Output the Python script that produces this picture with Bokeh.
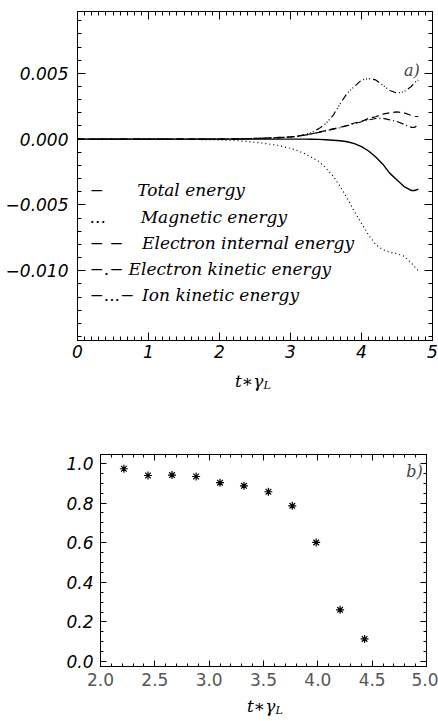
from bokeh.plotting import figure
from bokeh.layouts import column
from bokeh.models import (Range1d, FixedTicker, LinearAxis, CustomJSTickFormatter,
                          Label, ColumnDataSource, CustomLabelingPolicy)
from bokeh.core.properties import value
from bokeh.embed import file_html
from bokeh.resources import INLINE

# ---------------- data (panel a) ----------------
t = [0.0, 0.5, 1.0, 1.5, 2.0, 2.2, 2.4, 2.6, 2.8, 3.0, 3.1, 3.2, 3.3, 3.4, 3.5,
     3.6, 3.7, 3.8, 3.9, 4.0, 4.1, 4.2, 4.3, 4.4, 4.5, 4.6, 4.7, 4.75, 4.8]
total_energy = [0, 0, 0, 0, 0, 0, 0, 0, 0, 0, 0, 0, -0.00001, -0.00002, -0.00004,
                -0.00008, -0.00012, -0.0002, -0.00034, -0.00057, -0.0009, -0.00135, -0.0019,
                -0.0026, -0.0031, -0.0036, -0.0039, -0.0039, -0.0038]
magnetic_energy = [0, 0, 0, -0.00001, -0.00005, -0.0001, -0.00018, -0.0003, -0.00045,
                   -0.0007, -0.00088, -0.0011, -0.0014, -0.0017, -0.0022, -0.0028, -0.0036,
                   -0.0045, -0.0055, -0.0064, -0.0073, -0.0080, -0.0084, -0.0086, -0.0087,
                   -0.0089, -0.0094, -0.0097, -0.0100]
electron_internal = [0, 0, 0, 0, 0, 0.00002, 0.00004, 0.00007, 0.00011, 0.00017, 0.00023,
                     0.00031, 0.00041, 0.00053, 0.00065, 0.00078, 0.0009, 0.00106, 0.00123,
                     0.00135, 0.00157, 0.0017, 0.0019, 0.002, 0.00207, 0.002, 0.0018,
                     0.00174, 0.0017]
electron_kinetic = [0, 0, 0, 0, 0, 0.00002, 0.00004, 0.00007, 0.00011, 0.00017, 0.00022,
                    0.0003, 0.0004, 0.00052, 0.00064, 0.00076, 0.00087, 0.00103, 0.00118,
                    0.00132, 0.00146, 0.00157, 0.00159, 0.00146, 0.00134, 0.00112, 0.0009,
                    0.0009, 0.00112]
ion_kinetic = [0, 0, 0, 0, 0, 0.00002, 0.00003, 0.00006, 0.00009, 0.00017, 0.00022,
               0.00034, 0.0005, 0.0008, 0.0012, 0.0018, 0.0027, 0.0035, 0.0040, 0.0045,
               0.0046, 0.0045, 0.0041, 0.0037, 0.0035, 0.0036, 0.0040, 0.0043, 0.0045]

legend_symbols = ["\u2212", "...", "\u2212 \u2212", "\u2212.\u2212", "\u2212...\u2212"]
legend_names = ["Total energy", "Magnetic energy", "Electron internal energy",
                "Electron kinetic energy", "Ion kinetic energy"]

# ---------------- data (panel b) ----------------
growth_t = [2.215, 2.437, 2.658, 2.88, 3.10, 3.32, 3.545, 3.765, 3.985, 4.205, 4.43]
growth_v = [0.973, 0.939, 0.941, 0.934, 0.903, 0.887, 0.857, 0.786, 0.601, 0.261, 0.114]

x_ticks_a = [0, 1, 2, 3, 4, 5]
y_ticks_a = [-0.010, -0.005, 0.0, 0.005]
x_ticks_b = [2.0, 2.5, 3.0, 3.5, 4.0, 4.5, 5.0]
y_ticks_b = [0.0, 0.2, 0.4, 0.6, 0.8, 1.0]
axis_title_main = "t\u2217\u03b3"
axis_title_sub = "L"

SANS = "DejaVu Sans"
SERIF = "DejaVu Serif"
W = 438


def style_axis(ax, major_in, minor_in):
    ax.major_tick_in = major_in
    ax.major_tick_out = 0
    ax.minor_tick_in = minor_in
    ax.minor_tick_out = 0
    ax.axis_line_color = "black"
    ax.major_tick_line_color = "black"
    ax.minor_tick_line_color = "black"


def add_mirror_axes(p, xticker, yticker, major_in, minor_in):
    for loc, tk in (("above", xticker), ("right", yticker)):
        ax = LinearAxis(ticker=tk, major_label_text_font_size="1px",
                        major_label_standoff=0,
                        major_label_policy=CustomLabelingPolicy(code="return [];"))
        style_axis(ax, major_in, minor_in)
        p.add_layout(ax, loc)


def base_fig(**kw):
    p = figure(output_backend="svg", toolbar_location=None, **kw)
    p.frame_align = False
    p.grid.visible = False
    p.background_fill_color = "white"
    p.border_fill_color = "white"
    return p


def title_strip(height, x_join, y_mid):
    s = base_fig(width=W, height=height, x_range=Range1d(0, W), y_range=Range1d(0, height),
                 x_axis_location=None, y_axis_location=None, min_border=0)
    s.outline_line_color = None
    s.text(x=[x_join], y=[y_mid], text=[axis_title_main], text_font=value(SERIF),
           text_font_style="italic", text_font_size="17px", text_align="right",
           text_baseline="middle", text_color="black")
    s.text(x=[x_join], y=[y_mid - 5], text=[axis_title_sub], text_font=value(SERIF),
           text_font_style="italic", text_font_size="11px", text_align="left",
           text_baseline="middle", text_color="black")
    return s


# ================= panel a =================
ya0, ya1 = -0.0153, 0.0097
p1 = base_fig(width=W, height=370, x_range=Range1d(0, 5), y_range=Range1d(ya0, ya1),
              min_border_left=77, min_border_right=6, min_border_top=11,
              min_border_bottom=30)
p1.outline_line_color = "black"

xt_a = FixedTicker(ticks=x_ticks_a, minor_ticks=[i / 10 for i in range(0, 51)])
yt_a = FixedTicker(ticks=y_ticks_a, minor_ticks=[i / 1000 for i in range(-15, 10)])
p1.xaxis.ticker = xt_a
p1.yaxis.ticker = yt_a
for ax in (p1.xaxis[0], p1.yaxis[0]):
    style_axis(ax, 8, 4)
    ax.major_label_text_font = SANS
    ax.major_label_text_font_style = "italic"
    ax.major_label_text_font_size = "17px"
    ax.major_label_text_color = "black"
p1.xaxis.major_label_standoff = 4
p1.yaxis.major_label_standoff = 9
p1.yaxis.formatter = CustomJSTickFormatter(
    code="return tick.toFixed(3).replace('-', '\u2212');")
p1.xaxis.formatter = CustomJSTickFormatter(code="return tick.toFixed(0);")
add_mirror_axes(p1, xt_a, yt_a, 8, 4)

src_a = ColumnDataSource(dict(t=t, total=total_energy, mag=magnetic_energy,
                              ei=electron_internal, ek=electron_kinetic, ion=ion_kinetic))
p1.line("t", "total", source=src_a, line_color="black", line_width=1.4)
p1.line("t", "mag", source=src_a, line_color="black", line_width=1.2, line_dash="1 3")
p1.line("t", "ei", source=src_a, line_color="black", line_width=1.2, line_dash="7 4")
p1.line("t", "ek", source=src_a, line_color="black", line_width=1.2, line_dash="7 3 1 3")
p1.line("t", "ion", source=src_a, line_color="black", line_width=1.2,
        line_dash="7 3 1 2 1 2 1 3")

# legend as text rows
row_y = [-0.0039 - 0.00198 * i for i in range(len(legend_names))]
name_x = [0.84, 0.89, 0.91, 0.72, 0.91]
sym_x = [0.17] * len(legend_names)
p1.text(x=sym_x, y=row_y, text=legend_symbols, text_font=value(SERIF),
        text_font_style="italic", text_font_size="17px", text_baseline="middle",
        text_align="left", text_color="black")
p1.text(x=name_x, y=row_y, text=legend_names, text_font=value(SERIF),
        text_font_style="italic", text_font_size="17px", text_baseline="middle",
        text_align="left", text_color="black")
p1.add_layout(Label(x=4.82, y=0.0052, text="a)", text_font=SERIF,
                    text_font_style="italic", text_font_size="16px",
                    text_align="right", text_baseline="middle"))

t1 = title_strip(36, 263, 26)

# ================= panel b =================
yb0, yb1 = -0.025, 1.045
p2 = base_fig(width=W, height=286, x_range=Range1d(2, 5), y_range=Range1d(yb0, yb1),
              min_border_left=100, min_border_right=12, min_border_top=48,
              min_border_bottom=26)
p2.outline_line_color = "black"

xt_b = FixedTicker(ticks=x_ticks_b, minor_ticks=[2 + i / 10 for i in range(0, 31)])
yt_b = FixedTicker(ticks=y_ticks_b, minor_ticks=[i / 20 for i in range(0, 21)])
p2.xaxis.ticker = xt_b
p2.yaxis.ticker = yt_b
for ax in (p2.xaxis[0], p2.yaxis[0]):
    style_axis(ax, 6, 3)
    ax.major_label_text_font = SANS
    ax.major_label_text_font_size = "17px"
p2.yaxis.major_label_text_font_style = "italic"
p2.yaxis.major_label_text_color = "black"
p2.xaxis.major_label_text_color = "#555555"
p2.xaxis.major_label_standoff = 6
p2.yaxis.major_label_standoff = 7
p2.xaxis.formatter = CustomJSTickFormatter(code="return tick.toFixed(1);")
p2.yaxis.formatter = CustomJSTickFormatter(code="return tick.toFixed(1);")
add_mirror_axes(p2, xt_b, yt_b, 6, 3)

p2.scatter(growth_t, growth_v, marker="asterisk", size=8, line_color="black",
           line_width=1.2)
p2.add_layout(Label(x=4.965, y=0.958, text="b)", text_font=SERIF,
                    text_font_style="italic", text_font_size="16px",
                    text_align="right", text_baseline="middle"))

t2 = title_strip(29, 275, 16)

layout = column(p1, t1, p2, t2, spacing=0)
open("out.html", "w").write(file_html(layout, INLINE))
